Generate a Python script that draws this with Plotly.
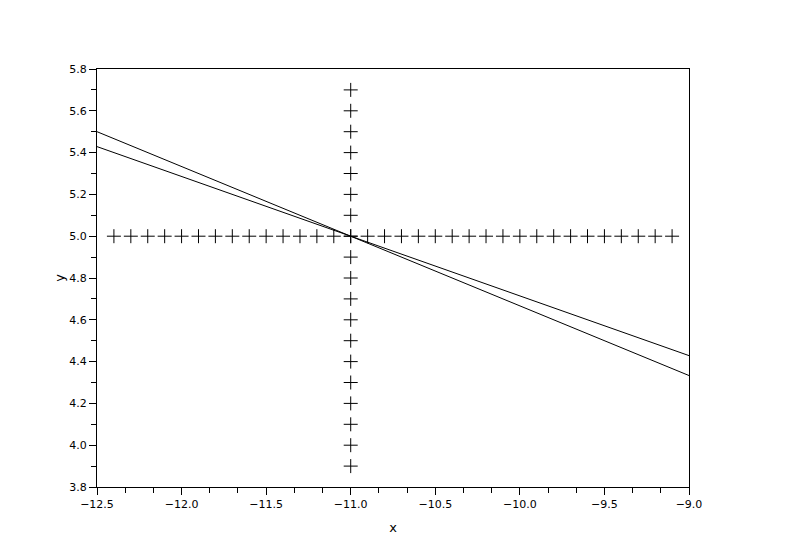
import plotly.graph_objects as go

hx = [-12.4, -12.3, -12.2, -12.1, -12.0, -11.9, -11.8, -11.7, -11.6, -11.5, -11.4, -11.3, -11.2, -11.1,
      -11.0, -10.9, -10.8, -10.7, -10.6, -10.5, -10.4, -10.3, -10.2, -10.1, -10.0, -9.9, -9.8, -9.7,
      -9.6, -9.5, -9.4, -9.3, -9.2, -9.1]
hy = [5.0] * len(hx)
vy = [3.9, 4.0, 4.1, 4.2, 4.3, 4.4, 4.5, 4.6, 4.7, 4.8, 4.9, 5.0, 5.1, 5.2, 5.3, 5.4, 5.5, 5.6, 5.7]
vx = [-11.0] * len(vy)

line1_x = [-12.5, -9.0]
line1_y = [5.5, 4.3333]
line2_x = [-12.5, -9.0]
line2_y = [5.4286, 4.4286]

fig = go.Figure()
mk = dict(symbol="cross-thin-open", size=10, color="black", line=dict(color="black", width=1))
fig.add_trace(go.Scatter(x=hx, y=hy, mode="markers", marker=mk, showlegend=False))
fig.add_trace(go.Scatter(x=vx, y=vy, mode="markers", marker=mk, showlegend=False))
fig.add_trace(go.Scatter(x=line1_x, y=line1_y, mode="lines", line=dict(color="black", width=1), showlegend=False))
fig.add_trace(go.Scatter(x=line2_x, y=line2_y, mode="lines", line=dict(color="black", width=1), showlegend=False))

fig.update_layout(
    width=788, height=557,
    margin=dict(l=89, r=107, t=61, b=78),
    paper_bgcolor="white", plot_bgcolor="white",
    font=dict(family="DejaVu Sans", size=11, color="black"),
    xaxis=dict(range=[-12.5, -9.0], dtick=0.5, tick0=-12.5, tickformat=".1f",
               showgrid=False, zeroline=False, showline=True, linecolor="black", linewidth=1,
               mirror=True, ticks="outside", ticklen=7, tickcolor="black",
               minor=dict(dtick=0.5/3, tick0=-12.5, ticks="outside", ticklen=5, tickcolor="black"),
               title=dict(text="x", standoff=12)),
    yaxis=dict(range=[3.8, 5.8], dtick=0.2, tick0=3.8, tickformat=".1f",
               showgrid=False, zeroline=False, showline=True, linecolor="black", linewidth=1,
               mirror=True, ticks="outside", ticklen=7, tickcolor="black",
               minor=dict(dtick=0.1, ticks="outside", ticklen=5, tickcolor="black"),
               title=dict(text="y", standoff=1)),
)
fig.write_html("out.html")
